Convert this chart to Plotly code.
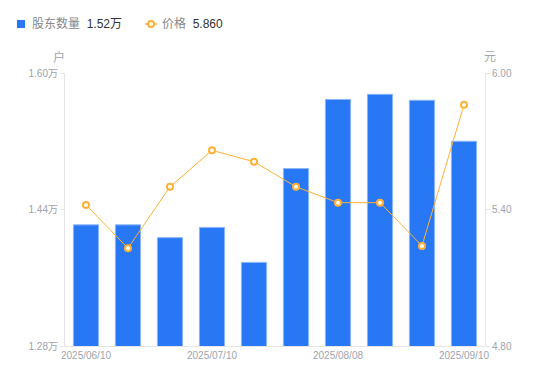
import plotly.graph_objects as go

dates = ["2025/06/10", "2025/06/20", "2025/06/30", "2025/07/10", "2025/07/18",
         "2025/07/31", "2025/08/08", "2025/08/20", "2025/08/31", "2025/09/10"]
holders = [1.422, 1.422, 1.407, 1.419, 1.378, 1.488, 1.569, 1.575, 1.568, 1.520]  # 万户
prices = [5.42, 5.23, 5.50, 5.66, 5.61, 5.50, 5.43, 5.43, 5.24, 5.86]

left_ticks = [1.28, 1.44, 1.60]
left_labels = ["1.28万", "1.44万", "1.60万"]
right_ticks = [4.80, 5.40, 6.00]
right_labels = ["4.80", "5.40", "6.00"]
shown_idx = [0, 3, 6, 9]

FONT = "Liberation Sans, Noto Sans CJK SC, sans-serif"
GRAY = "#A0A3AE"
AXIS = "#E6E6E6"
BLUE = "#2878F5"
ORANGE = "#FFB136"

# the page has an 8px body margin: the figure sits at (8,8) in the window
OFF = 8
W, H = 550 - 2 * OFF, 381 - 2 * OFF
PL, PR, PT, PB = 65, 485, 73, 346  # plot area in window pixels
ML, MT = PL - OFF, PT - OFF
MR, MB = W + OFF - PR, H + OFF - PB
PW, PH = PR - PL, PB - PT


def px(x):
    return (x - PL) / PW


def py(y):
    return (PB - y) / PH


fig = go.Figure()
fig.add_trace(go.Bar(
    x=dates, y=holders, name="股东数量",
    marker=dict(color=BLUE, line=dict(color="#8DB6FA", width=1)),
    width=0.6, yaxis="y", showlegend=False,
))
fig.add_trace(go.Scatter(
    x=dates, y=prices, name="价格",
    mode="lines+markers", yaxis="y2", showlegend=False,
    line=dict(color=ORANGE, width=1),
    marker=dict(symbol="circle", size=6, color="white", line=dict(color=ORANGE, width=2)),
))

# legend drawn as a header row
shapes = [
    dict(type="rect", xref="paper", yref="paper", x0=px(17), x1=px(25), y0=py(28), y1=py(20),
         fillcolor=BLUE, line=dict(width=0)),
    dict(type="line", xref="paper", yref="paper", x0=px(145), x1=px(157), y0=py(24), y1=py(24),
         line=dict(color=ORANGE, width=1.5)),
    dict(type="circle", xref="paper", yref="paper", x0=px(148), x1=px(154), y0=py(27), y1=py(21),
         fillcolor="white", line=dict(color=ORANGE, width=2)),
]
legend_ann = [
    dict(text="股东数量  <span style='color:#333333'>%.2f万</span>" % holders[-1],
         xref="paper", yref="paper", x=px(30), y=py(24), showarrow=False,
         xanchor="left", yanchor="middle", font=dict(size=12, color="#888888")),
    dict(text="价格  <span style='color:#333333'>%.3f</span>" % prices[-1],
         xref="paper", yref="paper", x=px(160), y=py(24), showarrow=False,
         xanchor="left", yanchor="middle", font=dict(size=12, color="#888888")),
]

fig.update_layout(
    width=W, height=H,
    margin=dict(l=ML, r=MR, t=MT, b=MB, pad=0, autoexpand=False),
    paper_bgcolor="white", plot_bgcolor="white",
    font=dict(family=FONT, size=12, color="#666666"),
    showlegend=False,
    xaxis=dict(type="category", categoryorder="array", categoryarray=dates,
               range=[-0.5, len(dates) - 0.5],
               tickmode="array", tickvals=[dates[i] for i in shown_idx],
               ticktext=[dates[i] for i in shown_idx],
               showline=True, linecolor=AXIS, linewidth=1, ticks="",
               tickfont=dict(size=10, color=GRAY), showgrid=False, zeroline=False),
    yaxis=dict(range=[1.28, 1.60], tickmode="array", tickvals=left_ticks, ticktext=left_labels,
               showline=True, linecolor=AXIS, linewidth=1, ticks="outside", ticklen=4,
               tickcolor=AXIS, tickfont=dict(size=10, color=GRAY), showgrid=False, zeroline=False),
    yaxis2=dict(range=[4.80, 6.00], overlaying="y", side="right", tickmode="array",
                tickvals=right_ticks, ticktext=right_labels,
                showline=True, linecolor=AXIS, linewidth=1, ticks="outside", ticklen=4,
                tickcolor=AXIS, tickfont=dict(size=10, color=GRAY), showgrid=False, zeroline=False),
    shapes=shapes,
    annotations=legend_ann + [
        dict(text="户", xref="paper", yref="paper", x=px(59), y=py(57),
             showarrow=False, xanchor="center", yanchor="middle", font=dict(size=12, color=GRAY)),
        dict(text="元", xref="paper", yref="paper", x=px(490), y=py(57),
             showarrow=False, xanchor="center", yanchor="middle", font=dict(size=12, color=GRAY)),
    ],
)

fig.write_html("out.html")
